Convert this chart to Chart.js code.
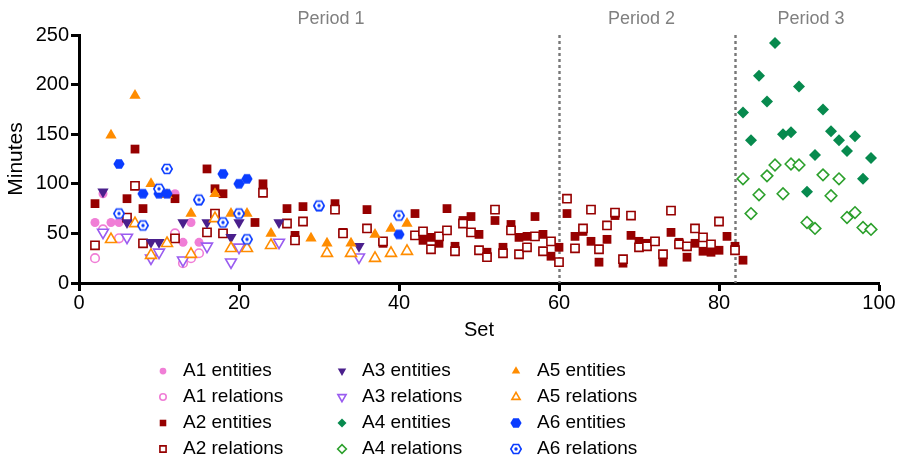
<!DOCTYPE html>
<html>
<head>
<meta charset="utf-8">
<script src="https://cdn.jsdelivr.net/npm/chart.js@4/dist/chart.umd.min.js"></script>
<style>
  html, body { margin: 0; padding: 0; background: #fff; }
  #wrap { width: 900px; height: 461px; }
</style>
</head>
<body>
<div id="wrap"><canvas id="chart" width="900" height="461"></canvas></div>
<script>
// [set, minutes]
const a1Entities = [[2,61],[3,90],[4,61],[5,61],[12,90],[13,41],[14,61],[15,41]];
const a1Relations = [[2,25],[3,54],[5,45],[12,50],[13,20],[14,25],[15,30]];
const a2Entities = [[2,80],[6,85],[7,135],[8,75],[12,85],[16,115],[17,95],[18,90],[22,61],[23,100],
  [26,75],[27,48],[28,77],[32,80],[33,51],[36,74],[38,40],[42,70],[43,43],[44,46],[45,40],[46,75],
  [47,37],[48,63],[49,67],[50,49],[51,31],[52,63],[53,36],[54,59],[55,46],[56,47],[57,67],[58,49],
  [59,27],[60,36],[61,70],[62,47],[63,52],[64,42],[65,21],[66,44],[67,68],[68,20],[69,48],[70,42],
  [71,40],[72,42],[73,21],[74,51],[75,41],[76,26],[77,40],[78,32],[79,31],[80,33],[81,47],[82,37],[83,23]];
const a2Relations = [[2,38],[6,66],[7,98],[8,40],[12,45],[16,51],[17,70],[18,50],[23,91],[26,60],
  [27,43],[28,62],[32,74],[33,50],[36,55],[38,42],[42,48],[43,52],[44,34],[45,47],[46,53],[47,32],
  [48,60],[49,51],[50,33],[51,26],[52,74],[53,30],[54,53],[55,29],[56,36],[57,47],[58,32],[59,42],
  [60,21],[61,85],[62,35],[63,55],[64,74],[65,34],[66,58],[67,71],[68,24],[69,68],[70,36],[71,37],
  [72,42],[73,29],[74,73],[75,39],[76,37],[77,55],[78,46],[79,39],[80,62],[82,33]];
const a3Entities = [[3,92],[6,61],[9,41],[10,41],[13,61],[16,61],[19,46],[20,61],[25,61],[35,37]];
const a3Relations = [[3,51],[6,46],[9,25],[10,31],[13,23],[16,37],[19,21],[20,36],[25,41],[35,26]];
const a4Entities = [[83,172],[84,144],[85,209],[86,183],[87,242],[88,150],[89,152],[90,198],[91,92],
  [92,129],[93,175],[94,153],[95,144],[96,133],[97,148],[98,105],[99,126]];
const a4Relations = [[83,105],[84,70],[85,89],[86,108],[87,119],[88,90],[89,120],[90,119],[91,61],
  [92,55],[93,109],[94,88],[95,105],[96,66],[97,71],[98,56],[99,54]];
const a5Entities = [[4,149],[7,189],[9,100],[11,89],[14,70],[17,90],[19,70],[21,70],[24,50],[29,45],
  [31,40],[34,40],[37,49],[39,55],[41,60]];
const a5Relations = [[4,44],[7,60],[9,28],[11,40],[14,29],[17,65],[19,35],[21,35],[24,38],[31,30],
  [34,30],[37,25],[39,30],[41,32]];
const a6Entities = [[5,120],[8,90],[10,90],[11,90],[15,83],[18,110],[20,100],[21,105],[30,77],[40,49]];
const a6Relations = [[5,70],[8,58],[10,95],[11,115],[15,84],[18,61],[20,70],[21,44],[30,78],[40,68]];

const periodBreaks = [60, 82];
const periodLabels = ['Period 1', 'Period 2', 'Period 3'];
const periodCenters = [31.5, 70.3, 91.5];

const FONT = "'Liberation Sans', Arial, sans-serif";
Chart.defaults.font.family = FONT;
Chart.defaults.color = '#000';

// hexagon marker (no built-in style for it)
function hexMarker(color, ring) {
  const c = document.createElement('canvas');
  c.width = 14; c.height = 14;
  const ctx = c.getContext('2d');
  const r = ring ? 5.2 : 5.6;
  ctx.beginPath();
  for (let i = 0; i < 6; i++) {
    const a = Math.PI / 3 * i;
    ctx.lineTo(7 + r * Math.cos(a), 7 + r * Math.sin(a));
  }
  ctx.closePath();
  if (ring) {
    ctx.fillStyle = '#fff';
    ctx.fill();
    ctx.strokeStyle = color;
    ctx.lineWidth = 1.6;
    ctx.stroke();
    ctx.beginPath();
    ctx.arc(7, 7, 1.7, 0, Math.PI * 2);
    ctx.fillStyle = color;
    ctx.fill();
  } else {
    ctx.fillStyle = color;
    ctx.fill();
  }
  return c;
}

const PINK = '#f07ed6', RED = '#960000', PURPLE = '#4a1f8c', LILAC = '#9a5cf0',
  GREEN = '#078a4e', LGREEN = '#2ca02c', ORANGE = '#ff8c00', BLUE = '#0a3cff';

function filled(label, data, color, style, radius, rotation) {
  return { label, data: data.map(([x, y]) => ({ x, y })), pointStyle: style, radius,
    rotation: rotation || 0, backgroundColor: color, borderColor: color, borderWidth: 0 };
}
function open(label, data, color, style, radius, rotation) {
  return { label, data: data.map(([x, y]) => ({ x, y })), pointStyle: style, radius,
    rotation: rotation || 0, backgroundColor: '#fff', borderColor: color, borderWidth: 1.6 };
}

const datasets = [
  filled('A1 entities', a1Entities, PINK, 'circle', 4.5),
  open('A1 relations', a1Relations, PINK, 'circle', 4.3),
  filled('A2 entities', a2Entities, RED, 'rect', 6.2),
  open('A2 relations', a2Relations, RED, 'rect', 5.8),
  filled('A3 entities', a3Entities, PURPLE, 'triangle', 6.5, 180),
  open('A3 relations', a3Relations, LILAC, 'triangle', 6.3, 180),
  filled('A4 entities', a4Entities, GREEN, 'rectRot', 6),
  open('A4 relations', a4Relations, LGREEN, 'rectRot', 5.8),
  filled('A5 entities', a5Entities, ORANGE, 'triangle', 6.5),
  open('A5 relations', a5Relations, ORANGE, 'triangle', 6.3),
  filled('A6 entities', a6Entities, BLUE, hexMarker(BLUE, false), 6),
  open('A6 relations', a6Relations, BLUE, hexMarker(BLUE, true), 6)
];
// later datasets on top
datasets.forEach((d, i) => { d.order = datasets.length - i; d.hoverRadius = d.radius; });

const periodsPlugin = {
  id: 'periods',
  beforeDatasetsDraw(chart) {
    const { ctx, chartArea, scales } = chart;
    ctx.save();
    ctx.strokeStyle = '#777';
    ctx.lineWidth = 2.4;
    ctx.setLineDash([3, 3]);
    periodBreaks.forEach(b => {
      const x = Math.round(scales.x.getPixelForValue(b)) + 0.5;
      ctx.beginPath();
      ctx.moveTo(x, chartArea.top);
      ctx.lineTo(x, chartArea.bottom);
      ctx.stroke();
    });
    ctx.restore();
  },
  afterDraw(chart) {
    const { ctx, scales } = chart;
    ctx.save();
    ctx.fillStyle = '#808080';
    ctx.font = '18px ' + FONT;
    ctx.textAlign = 'center';
    ctx.textBaseline = 'middle';
    periodLabels.forEach((t, i) => ctx.fillText(t, scales.x.getPixelForValue(periodCenters[i]), 19));
    ctx.restore();
  }
};

// legend laid out in columns, 4 rows each
const gridLegend = {
  id: 'gridLegend',
  afterDraw(chart) {
    const { ctx } = chart;
    const markX = [163, 342, 516], textX = [183, 362, 537], rowY = [371, 397, 423, 449];
    ctx.save();
    ctx.font = '19px ' + FONT;
    ctx.textBaseline = 'middle';
    chart.data.datasets.forEach((d, i) => {
      const col = Math.floor(i / 4), row = i % 4;
      const x = markX[col], y = rowY[row];
      ctx.fillStyle = d.backgroundColor;
      ctx.strokeStyle = d.borderColor;
      ctx.lineWidth = d.borderWidth;
      Chart.helpers.drawPoint(ctx, {
        pointStyle: d.pointStyle, rotation: d.rotation, radius: d.radius * 0.75,
        borderWidth: d.borderWidth
      }, x, y);
      ctx.fillStyle = '#000';
      ctx.fillText(d.label, textX[col], y);
    });
    ctx.restore();
  }
};

new Chart(document.getElementById('chart'), {
  type: 'scatter',
  data: { datasets },
  options: {
    responsive: false,
    animation: false,
    events: [],
    layout: { padding: { left: 0, right: 21, top: 35, bottom: 119 } },
    plugins: { legend: { display: false }, tooltip: { enabled: false } },
    scales: {
      x: {
        type: 'linear', min: 0, max: 100,
        afterFit: s => { s.height = 59; },
        ticks: { stepSize: 20, font: { size: 20 }, color: '#000', padding: 0 },
        grid: { drawOnChartArea: false, drawTicks: true, tickLength: 8, tickWidth: 3, tickColor: '#000' },
        border: { display: true, color: '#000', width: 3 },
        title: { display: true, text: 'Set', font: { size: 20 }, color: '#000', padding: { top: 0, bottom: 0 } }
      },
      y: {
        type: 'linear', min: 0, max: 250,
        afterFit: s => { s.width = 79; },
        ticks: { stepSize: 50, font: { size: 20 }, color: '#000', padding: 2 },
        grid: { drawOnChartArea: false, drawTicks: true, tickLength: 8, tickWidth: 3, tickColor: '#000' },
        border: { display: true, color: '#000', width: 3 },
        title: { display: true, text: 'Minutes', font: { size: 21 }, color: '#000', padding: { top: 4, bottom: 4 } }
      }
    }
  },
  plugins: [periodsPlugin, gridLegend]
});
</script>
</body>
</html>
